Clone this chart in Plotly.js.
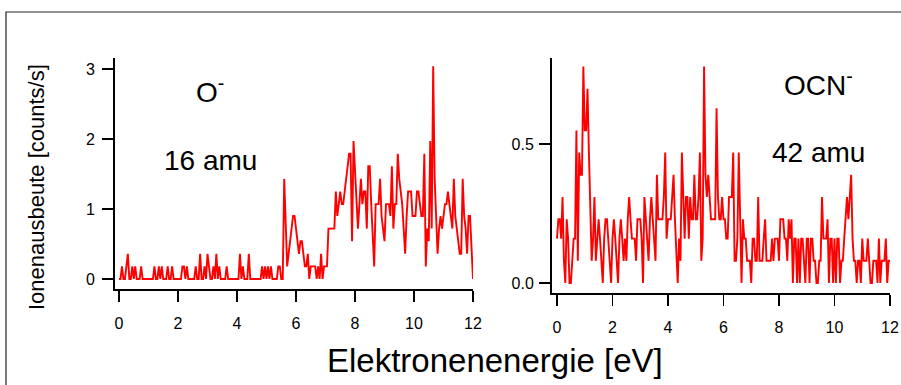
<!DOCTYPE html>
<html>
<head>
<meta charset="utf-8">
<script src="https://cdn.plot.ly/plotly-3.0.1.min.js"></script>
<style>html,body{margin:0;padding:0;background:#fff;}#chart{width:901px;height:385px;}</style>
</head>
<body>
<div id="chart"></div>
<script>
// Electron energy grid (eV)
const energyStart = 0;
const energyStep = 0.05;

// O- (16 amu) ion yield [counts/s]
const yieldO = [
 0,0,0.18,0,0,0.18,0.36,0,0,0.18,
 0,0.18,0,0,0,0.18,0,0,0,0,
 0,0,0,0,0.18,0,0,0.18,0,0.18,
 0,0,0,0.18,0,0,0.18,0,0,0,
 0,0,0,0.18,0.18,0,0.18,0,0,0,
 0,0,0.18,0,0,0.36,0,0,0.18,0,
 0.36,0.18,0,0,0.18,0,0.36,0,0.18,0,
 0,0,0,0.18,0,0,0,0,0,0,
 0,0,0.36,0,0.18,0,0,0,0.36,0,
 0,0,0,0,0,0,0,0.18,0,0.18,
 0,0.18,0,0.18,0,0,0,0,0.18,0.18,
 0,0,1.43,0.72,0.18,0.36,0.54,0.72,0.9,0.9,
 0.72,0.54,0.36,0.54,0.54,0.36,0.18,0.18,0.36,0,
 0.18,0.18,0.18,0.18,0,0.18,0,0.36,0,0.18,
 0.18,0.18,0.72,0.72,0.72,0.72,0.72,1.25,0.9,1.07,
 1.25,1.07,1.07,1.25,1.43,1.61,1.79,1.79,0.54,1.97,
 1.61,1.25,0.72,1.07,1.43,1.07,1.25,1.25,0.72,1.61,
 1.61,1.07,0.54,0.18,1.07,1.07,1.07,1.43,0.9,0.72,
 0.54,1.07,1.07,1.07,0.9,1.61,0.72,1.07,1.07,1.79,
 1.43,1.25,1.07,0.72,0.36,0.9,1.25,1.25,1.25,0.9,
 0.9,0.9,1.25,1.25,1.07,0.9,0.9,1.79,0.18,0.72,
 0.54,1.97,0.72,3.04,1.43,0.72,0.36,0.72,0.9,0.72,
 0.9,1.07,1.07,1.25,1.07,0.9,0.72,1.43,0.9,0.72,
 0.54,0.36,0.36,1.43,0.9,0.72,0.36,0.9,0.9,0.36,
 0
];

// OCN- (42 amu) ion yield [counts/s]
const yieldOCN = [
 0.16,0.23,0.23,0.16,0.31,0.08,0,0.23,0.16,0,
 0,0.08,0.16,0.16,0.55,0.08,0.47,0.39,0.39,0.78,
 0.55,0.55,0.70,0.47,0.23,0.08,0.16,0.31,0.08,0.16,
 0.23,0.16,0.08,0,0.16,0.23,0.23,0.16,0.08,0,
 0.16,0.23,0.16,0.08,0,0.16,0.23,0.16,0.08,0.16,
 0.08,0.23,0.31,0.23,0.16,0.16,0.16,0.08,0.23,0.23,
 0.23,0.16,0,0.31,0.23,0.16,0.08,0.23,0.31,0.23,
 0.16,0.08,0.39,0.23,0.23,0.23,0.23,0.31,0.47,0.16,
 0.23,0.23,0.23,0.31,0.39,0.23,0.08,0,0.16,0.08,
 0.47,0.31,0.16,0.31,0.31,0.16,0.31,0.23,0.23,0.39,
 0.23,0.23,0.31,0.47,0.08,0.16,0.78,0.39,0.31,0.39,
 0.31,0.23,0.23,0.23,0.23,0.63,0.31,0.23,0.23,0.31,
 0.23,0.23,0.16,0.16,0.31,0.31,0.31,0.47,0.08,0.08,
 0.16,0.47,0.23,0,0.23,0.16,0.16,0.08,0.08,0.08,
 0,0.16,0.16,0.08,0.08,0.31,0.08,0.08,0.08,0.16,
 0.23,0.08,0.08,0.08,0.08,0.16,0.08,0.16,0.16,0.16,
 0.08,0.23,0.23,0.23,0.16,0.16,0.08,0.23,0.16,0.23,
 0,0.16,0.16,0,0.16,0,0.16,0.16,0.08,0,
 0.16,0.16,0,0.16,0.16,0.08,0.08,0,0,0.08,
 0.08,0.31,0.16,0.16,0.16,0.23,0,0.16,0.16,0,
 0.16,0,0.16,0.16,0,0.08,0.08,0.16,0.23,0.31,
 0.23,0.31,0.39,0.16,0.08,0.08,0,0.08,0.08,0,
 0.16,0.08,0.08,0.08,0.16,0.08,0,0,0.08,0.08,
 0.08,0,0.16,0,0.08,0.08,0.08,0.16,0,0.08,
 0.08
];

const xTicks = [0, 2, 4, 6, 8, 10, 12];
const yTicksO = [0, 1, 2, 3];
const yTicksOCN = [0, 0.5];
const yTickTextOCN = ['0.0', '0.5'];

const W = 901, H = 385;
const px = v => v / W;
const py = v => 1 - v / H;

const tickFont = {family: 'Liberation Sans Narrow, Liberation Sans, Arial', size: 16, color: '#000'};
const axCommon = {
  showline: true, linecolor: '#000', linewidth: 2,
  ticks: 'outside', ticklen: 11, tickwidth: 1.8, tickcolor: '#000',
  showgrid: false, zeroline: false, tickfont: tickFont, fixedrange: true
};

const traces = [
  {x0: energyStart, dx: energyStep, y: yieldO, type: 'scatter', mode: 'lines',
   line: {color: '#ff0000', width: 1.9}, xaxis: 'x', yaxis: 'y', hoverinfo: 'skip'},
  {x0: energyStart, dx: energyStep, y: yieldOCN, type: 'scatter', mode: 'lines',
   line: {color: '#ff0000', width: 1.9}, xaxis: 'x2', yaxis: 'y2', hoverinfo: 'skip'}
];

const layout = {
  width: W, height: H,
  margin: {l: 0, r: 0, t: 0, b: 0},
  paper_bgcolor: '#fff', plot_bgcolor: 'rgba(0,0,0,0)',
  showlegend: false,
  font: {family: 'Liberation Sans, Arial', color: '#000'},
  xaxis: Object.assign({}, axCommon, {domain: [px(115), px(473)], range: [-0.136, 12],
    tickvals: xTicks, anchor: 'y', ticklabelstandoff: 8}),
  yaxis: Object.assign({}, axCommon, {domain: [py(289), py(58)], range: [-0.143, 3.157],
    tickvals: yTicksO, anchor: 'x', ticklabelstandoff: 4}),
  xaxis2: Object.assign({}, axCommon, {domain: [px(552), px(890)], range: [-0.18, 12],
    tickvals: xTicks, anchor: 'y2', ticklabelstandoff: 8}),
  yaxis2: Object.assign({}, axCommon, {domain: [py(293), py(58)], range: [-0.036, 0.811],
    tickvals: yTicksOCN, ticktext: yTickTextOCN, anchor: 'x2', ticklabelstandoff: 2}),
  shapes: [
    {type: 'rect', xref: 'paper', yref: 'paper', x0: px(6), x1: 1.02, y0: -0.05, y1: py(12),
     line: {color: '#222', width: 1.2}, fillcolor: 'rgba(0,0,0,0)', layer: 'below'}
  ],
  annotations: [
    {text: 'Ionenausbeute [counts/s]', textangle: -90, xref: 'paper', yref: 'paper',
     x: px(36), y: py(187), xanchor: 'center', yanchor: 'middle', showarrow: false,
     font: {size: 22, color: '#000'}},
    {text: 'Elektronenenergie [eV]', xref: 'paper', yref: 'paper',
     x: px(495), y: py(360), xanchor: 'center', yanchor: 'middle', showarrow: false,
     font: {size: 33, color: '#000'}},
    {text: 'O<sup>-</sup>', xref: 'paper', yref: 'paper', x: px(194), y: py(90),
     xanchor: 'left', yanchor: 'middle', showarrow: false, font: {size: 28, color: '#000'}},
    {text: '16 amu', xref: 'paper', yref: 'paper', x: px(210), y: py(160),
     xanchor: 'center', yanchor: 'middle', showarrow: false, font: {size: 28, color: '#000'}},
    {text: 'OCN<sup>-</sup>', xref: 'paper', yref: 'paper', x: px(782), y: py(83),
     xanchor: 'left', yanchor: 'middle', showarrow: false, font: {size: 28, color: '#000'}},
    {text: '42 amu', xref: 'paper', yref: 'paper', x: px(818), y: py(152),
     xanchor: 'center', yanchor: 'middle', showarrow: false, font: {size: 28, color: '#000'}}
  ]
};

Plotly.newPlot('chart', traces, layout, {displayModeBar: false, staticPlot: true});
</script>
</body>
</html>
